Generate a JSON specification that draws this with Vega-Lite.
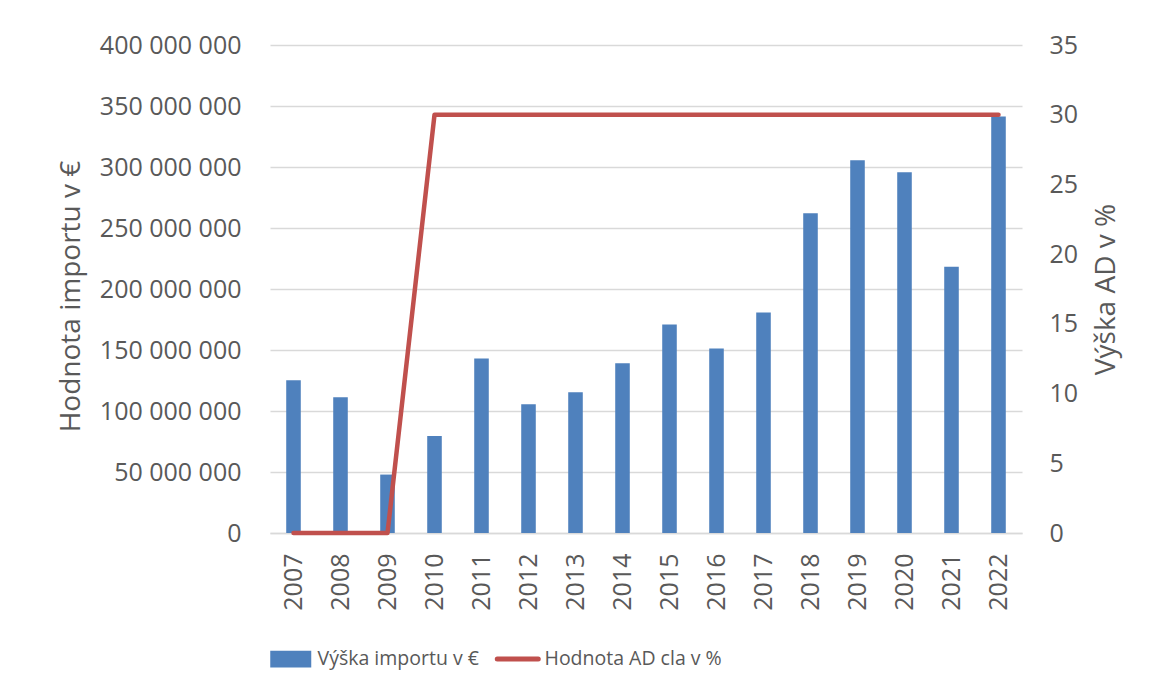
{
  "$schema": "https://vega.github.io/schema/vega-lite/v6.json",
  "autosize": {"type": "none"},
  "padding": {"left": 270, "top": 45, "right": 143, "bottom": 167},
  "width": 752,
  "height": 488,
  "background": "white",
  "config": {
    "view": {"stroke": null},
    "axis": {
      "labelFont": "Open Sans",
      "labelFontSize": 25,
      "labelColor": "#595959",
      "titleFont": "Open Sans",
      "titleFontSize": 28,
      "titleFontWeight": "normal",
      "titleColor": "#595959",
      "ticks": false
    }
  },
  "data": {
    "values": [
      {"year": "2007", "import": 125200000, "ad": 0},
      {"year": "2008", "import": 111200000, "ad": 0},
      {"year": "2009", "import": 47900000, "ad": 0},
      {"year": "2010", "import": 79500000, "ad": 30},
      {"year": "2011", "import": 143000000, "ad": 30},
      {"year": "2012", "import": 105500000, "ad": 30},
      {"year": "2013", "import": 115300000, "ad": 30},
      {"year": "2014", "import": 139100000, "ad": 30},
      {"year": "2015", "import": 171000000, "ad": 30},
      {"year": "2016", "import": 151300000, "ad": 30},
      {"year": "2017", "import": 180800000, "ad": 30},
      {"year": "2018", "import": 262000000, "ad": 30},
      {"year": "2019", "import": 305500000, "ad": 30},
      {"year": "2020", "import": 295600000, "ad": 30},
      {"year": "2021", "import": 218200000, "ad": 30},
      {"year": "2022", "import": 341300000, "ad": 30}
    ]
  },
  "encoding": {
    "x": {
      "field": "year",
      "type": "nominal",
      "scale": {"paddingInner": 0, "paddingOuter": 0},
      "axis": {
        "title": null,
        "labelAngle": -90,
        "labelPadding": 20,
        "domainColor": "#D9D9D9",
        "domainWidth": 1.3
      }
    }
  },
  "layer": [
    {
      "mark": {"type": "bar", "width": {"band": 0.31}},
      "encoding": {
        "y": {
          "field": "import",
          "type": "quantitative",
          "scale": {"domain": [0, 400000000], "nice": false},
          "axis": {
            "title": "Hodnota importu v €",
            "titleAngle": -90,
            "titleX": -199,
            "titleY": 251,
            "titleAlign": "center",
            "titleBaseline": "middle",
            "values": [0, 50000000, 100000000, 150000000, 200000000, 250000000, 300000000, 350000000, 400000000],
            "labelExpr": "replace(format(datum.value, ','), regexp(',', 'g'), ' ')",
            "labelPadding": 29,
            "domain": false,
            "grid": true,
            "gridColor": "#D9D9D9",
            "gridWidth": 1.3
          }
        },
        "color": {
          "datum": "Výška importu v €",
          "type": "nominal",
          "scale": {
            "domain": ["Výška importu v €", "Hodnota AD cla v %"],
            "range": ["#4F81BD", "#C0504D"]
          },
          "legend": {
            "title": null,
            "orient": "none",
            "direction": "horizontal",
            "legendX": 11,
            "legendY": 604,
            "labelFont": "Open Sans",
            "labelFontSize": 19.5,
            "labelColor": "#595959",
            "labelLimit": 400,
            "labelOffset": 17,
            "columnPadding": 8,
            "symbolSize": 1681,
            "encode": {
              "symbols": {
                "update": {
                  "shape": {"signal": "datum.value === 'Hodnota AD cla v %' ? 'M-1,0H1' : 'M-1,-0.41H1V0.41H-1Z'"},
                  "fill": {"signal": "datum.value === 'Hodnota AD cla v %' ? 'transparent' : '#4F81BD'"},
                  "stroke": {"signal": "datum.value === 'Hodnota AD cla v %' ? '#C0504D' : 'transparent'"},
                  "strokeWidth": {"signal": "datum.value === 'Hodnota AD cla v %' ? 5 : 0"},
                  "strokeCap": {"value": "round"},
                  "opacity": {"value": 1}
                }
              }
            }
          }
        }
      }
    },
    {
      "mark": {"type": "line", "strokeWidth": 4.5, "strokeCap": "round", "strokeJoin": "round"},
      "encoding": {
        "y": {
          "field": "ad",
          "type": "quantitative",
          "scale": {"domain": [0, 35], "nice": false},
          "axis": {
            "orient": "right",
            "title": "Výška AD v %",
            "titleAngle": -90,
            "titleX": 84,
            "titleY": 244,
            "titleAlign": "center",
            "titleBaseline": "middle",
            "values": [0, 5, 10, 15, 20, 25, 30, 35],
            "labelPadding": 27,
            "domain": false,
            "grid": false
          }
        },
        "color": {"datum": "Hodnota AD cla v %", "type": "nominal"}
      }
    }
  ],
  "resolve": {"scale": {"y": "independent"}}
}
